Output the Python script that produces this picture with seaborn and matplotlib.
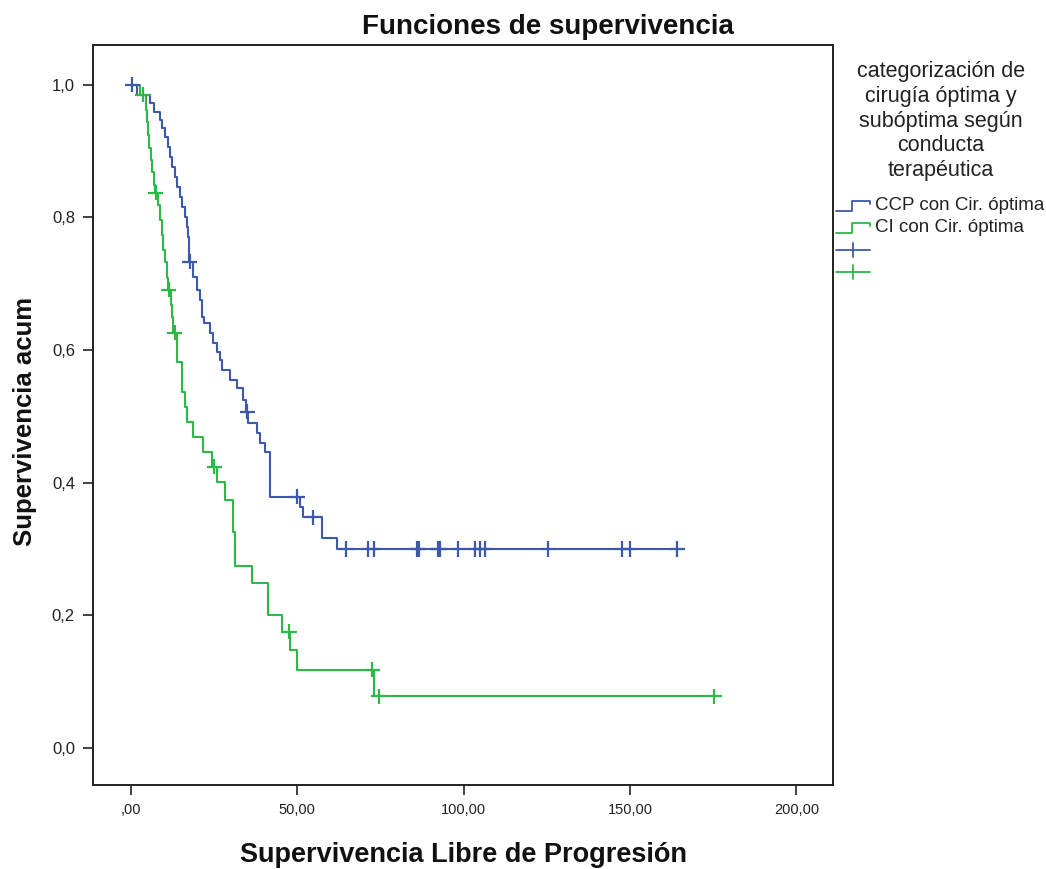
import numpy as np
import pandas as pd
import matplotlib
matplotlib.use("Agg")
import matplotlib.pyplot as plt
from matplotlib.lines import Line2D
import seaborn as sns

# ---------------- data ----------------
group_names = ["CCP con Cir. óptima", "CI con Cir. óptima"]
colors = ["#3e58ac", "#2eb848"]

blue_t = [0, 1.8, 5.7, 6.9, 8.7, 9.3, 10.2, 11.1, 11.7, 12.3, 13.2, 13.8, 14.7, 15.3,
          16.2, 16.8, 17.1, 17.4, 17.6, 18.6, 19.8, 20.8, 21.4, 22.0, 23.8, 24.7, 25.9,
          26.8, 27.4, 29.8, 31.9, 33.7, 34.6, 35.2, 37.9, 38.8, 40.3, 41.8, 50.8, 51.7,
          57.4, 62.0, 164.2]
blue_s = [1.0, 0.985, 0.973, 0.959, 0.947, 0.935, 0.922, 0.906, 0.891, 0.876, 0.861,
          0.846, 0.831, 0.816, 0.801, 0.786, 0.771, 0.754, 0.733, 0.710, 0.691, 0.676,
          0.650, 0.641, 0.626, 0.611, 0.597, 0.585, 0.570, 0.555, 0.543, 0.525, 0.507,
          0.490, 0.475, 0.460, 0.446, 0.379, 0.363, 0.348, 0.317, 0.300, 0.300]
blue_cens = [0.4, 17.7, 35.0, 49.9, 54.7, 64.7, 71.3, 73.0, 86.0, 86.6, 92.3, 92.9,
             98.4, 103.5, 105.0, 106.5, 125.4, 147.7, 150.0, 164.2]

green_t = [0, 2.7, 4.5, 4.8, 5.1, 5.4, 6.0, 6.3, 6.9, 7.1, 8.1, 8.7, 9.3, 9.6, 10.2,
           10.8, 11.1, 12.0, 12.3, 12.6, 13.8, 15.3, 16.2, 16.8, 18.6, 21.7, 24.4, 25.9,
           28.3, 30.7, 31.3, 36.4, 41.2, 45.4, 47.8, 49.9, 73.0, 175.3]
green_s = [1.0, 0.985, 0.962, 0.944, 0.925, 0.905, 0.887, 0.869, 0.849, 0.837, 0.819,
           0.796, 0.774, 0.751, 0.732, 0.709, 0.691, 0.668, 0.650, 0.626, 0.582, 0.537,
           0.514, 0.492, 0.469, 0.446, 0.424, 0.401, 0.374, 0.325, 0.275, 0.249, 0.201,
           0.175, 0.148, 0.118, 0.078, 0.078]
green_cens = [3.6, 7.4, 11.4, 13.2, 25.0, 47.5, 72.5, 74.5, 175.3]

x_ticks = [0, 50, 100, 150, 200]
x_ticklabels = [",00", "50,00", "100,00", "150,00", "200,00"]
y_ticks = [0.0, 0.2, 0.4, 0.6, 0.8, 1.0]
y_ticklabels = ["0,0", "0,2", "0,4", "0,6", "0,8", "1,0"]

title = "Funciones de supervivencia"
xlabel = "Supervivencia Libre de Progresión"
ylabel = "Supervivencia acum"
legend_title = "categorización de\ncirugía óptima y\nsubóptima según\nconducta\nterapéutica"

# ---------------- build tables ----------------
curves = pd.concat([
    pd.DataFrame({"t": blue_t, "s": blue_s, "g": group_names[0]}),
    pd.DataFrame({"t": green_t, "s": green_s, "g": group_names[1]}),
], ignore_index=True)


def level_at(ts, ss, c):
    idx = np.searchsorted(np.asarray(ts), c, side="right") - 1
    return np.asarray(ss)[idx]

cens = pd.concat([
    pd.DataFrame({"t": blue_cens, "s": level_at(blue_t, blue_s, blue_cens), "g": group_names[0]}),
    pd.DataFrame({"t": green_cens, "s": level_at(green_t, green_s, green_cens), "g": group_names[1]}),
], ignore_index=True)

# ---------------- plotting ----------------
sns.set_style("white")
plt.rcParams["font.family"] = ["Liberation Sans", "DejaVu Sans"]

W, H = 1046, 869
fig = plt.figure(figsize=(W / 100, H / 100), dpi=100)
ax = fig.add_axes([93 / W, 1 - 785 / H, (833 - 93) / W, (785 - 45) / H])

palette = dict(zip(group_names, colors))
sns.lineplot(data=curves, x="t", y="s", hue="g", palette=palette, estimator=None,
             sort=False, drawstyle="steps-post", linewidth=1.5, legend=False, ax=ax)
sns.scatterplot(data=cens, x="t", y="s", hue="g", palette=palette, marker="+",
                s=120, linewidth=1.6, legend=False, ax=ax, zorder=3)

ax.set_xlim(-11.4, 211)
ax.set_ylim(-0.056, 1.06)
ax.set_xticks(x_ticks)
ax.set_xticklabels(x_ticklabels)
ax.set_yticks(y_ticks)
ax.set_yticklabels(y_ticklabels)
ax.tick_params(axis="both", which="major", direction="out", length=7, width=1.2,
               colors="#222222", left=True, bottom=True)
ax.tick_params(axis="x", labelsize=10.5, pad=6)
ax.tick_params(axis="y", labelsize=12, pad=6)
for sp in ax.spines.values():
    sp.set_color("#222222")
    sp.set_linewidth(1.4)
ax.set_xlabel("")
ax.set_ylabel("")

fig.text(548 / W, 1 - 27 / H, title, ha="center", va="center", fontsize=20,
         fontweight="bold", color="#111111")
fig.text(463 / W, 1 - 855 / H, xlabel, ha="center", va="center", fontsize=19.5,
         fontweight="bold", color="#111111")
fig.text(25 / W, 1 - 421 / H, ylabel, ha="center", va="center", fontsize=18.5,
         fontweight="bold", rotation=90, color="#111111")

# legend (drawn at figure level)
fig.text(941 / W, 1 - 121 / H, legend_title, ha="center", va="center", fontsize=15.5,
         linespacing=1.22, color="#222222")


def fx(px):
    return px / W


def fy(py):
    return 1 - py / H

for i, (name, col) in enumerate(zip(group_names, colors)):
    yc = 206 + 22 * i
    xs = [836, 852, 852, 870, 870]
    ys = [yc + 5, yc + 5, yc - 5, yc - 5, yc - 2]
    fig.add_artist(Line2D([fx(v) for v in xs], [fy(v) for v in ys], color=col,
                          linewidth=1.3, transform=fig.transFigure))
    fig.text(fx(875), fy(yc), name, ha="left", va="center", fontsize=13.5,
             color="#222222")
for i, col in enumerate(colors):
    yc = 250 + 22 * i
    fig.add_artist(Line2D([fx(836), fx(870)], [fy(yc), fy(yc)], color=col,
                          linewidth=1.3, transform=fig.transFigure))
    fig.add_artist(Line2D([fx(853), fx(853)], [fy(yc - 7), fy(yc + 7)], color=col,
                          linewidth=1.3, transform=fig.transFigure))

fig.savefig("out.png", dpi=100, facecolor="white")
